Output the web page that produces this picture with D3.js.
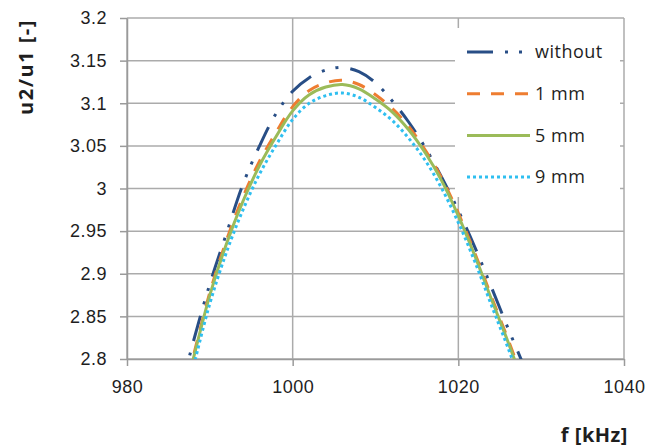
<!DOCTYPE html>
<html>
<head>
<meta charset="utf-8">
<script src="https://cdn.jsdelivr.net/npm/d3@7"></script>
<style>
    body { margin: 0; background: #fff; }
    svg { display: block; font-family: 'Open Sans', sans-serif; }
</style>
</head>
<body>
<svg class="main" width="651" height="448"></svg>
<script>
// frequency points (kHz)
var freq = [986, 988, 990, 992, 994, 996, 998, 1000, 1002, 1004, 1006,
            1008, 1010, 1012, 1014, 1016, 1018, 1020, 1022, 1024, 1026, 1028];

// u2/u1
var without = [2.745, 2.82, 2.888, 2.947, 3.005, 3.05, 3.088, 3.114, 3.130, 3.139, 3.142,
               3.137, 3.124, 3.103, 3.078, 3.048, 3.013, 2.974, 2.931, 2.884, 2.836, 2.79];
var mm1 = [2.725, 2.803, 2.878, 2.939, 2.99, 3.032, 3.066, 3.096, 3.115, 3.124, 3.127,
           3.122, 3.110, 3.094, 3.073, 3.045, 3.012, 2.971, 2.924, 2.873, 2.823, 2.77];
var mm5 = [2.72, 2.80, 2.875, 2.935, 2.985, 3.027, 3.061, 3.091, 3.110, 3.119, 3.122,
           3.117, 3.105, 3.090, 3.069, 3.042, 3.009, 2.968, 2.921, 2.870, 2.820, 2.767];
var mm9 = [2.71, 2.79, 2.865, 2.925, 2.975, 3.017, 3.051, 3.081, 3.100, 3.109, 3.112,
           3.107, 3.095, 3.080, 3.059, 3.033, 3.000, 2.960, 2.914, 2.863, 2.813, 2.76];

var seriesNames = ['without', '1 mm', '5 mm', '9 mm'];
var xTicks = [980, 1000, 1020, 1040];
var yTicks = [2.8, 2.85, 2.9, 2.95, 3, 3.05, 3.1, 3.15, 3.2];

var plotLeft = 127,
    plotRight = 624,
    plotTop = 18,
    plotBottom = 359,
    gridColor = '#ababab',
    textColor = '#1e1e1e',
    // series styles
    colors = ['#284e86', '#ee7d31', '#9bbb59', '#2fbff0'],
    dashes = ['26 12 3 11 3 12', '13 11', null, '3 3'];

var svg = d3.select('svg');

var x = d3.scaleLinear()
    .domain([980, 1040])
    .range([plotLeft, plotRight]);

var y = d3.scaleLinear()
    .domain([2.8, 3.2])
    .range([plotBottom, plotTop]);

// gridlines
svg.append('g')
    .selectAll('line')
    .data(yTicks)
    .enter().append('line')
    .attr('x1', plotLeft)
    .attr('x2', plotRight)
    .attr('y1', d => y(d))
    .attr('y2', d => y(d))
    .attr('stroke', gridColor)
    .attr('stroke-width', 1.5);

svg.append('g')
    .selectAll('line')
    .data(xTicks)
    .enter().append('line')
    .attr('x1', d => x(d))
    .attr('x2', d => x(d))
    .attr('y1', plotTop)
    .attr('y2', plotBottom)
    .attr('stroke', gridColor)
    .attr('stroke-width', 1.5);

// axes
var yAxis = d3.axisLeft(y)
    .tickValues(yTicks)
    .tickFormat(d3.format('~g'))
    .tickSizeInner(7)
    .tickSizeOuter(0)
    .tickPadding(13);

var xAxis = d3.axisBottom(x)
    .tickValues(xTicks)
    .tickFormat(d3.format('d'))
    .tickSizeInner(7)
    .tickSizeOuter(0)
    .tickPadding(14);

var gY = svg.append('g')
    .attr('transform', `translate(${plotLeft},0)`)
    .call(yAxis);

var gX = svg.append('g')
    .attr('transform', `translate(0,${plotBottom})`)
    .call(xAxis);

[gX, gY].forEach(function(g) {
    g.selectAll('path, line')
        .attr('stroke', '#9a9a9a')
        .attr('stroke-width', 1.5);
    g.selectAll('text')
        .attr('fill', textColor)
        .style('font-size', '18px')
        .style('letter-spacing', '0.5px');
});

// lines, clipped to the plot area
svg.append('clipPath')
    .attr('id', 'plot')
    .append('rect')
    .attr('x', plotLeft)
    .attr('y', plotTop)
    .attr('width', plotRight - plotLeft)
    .attr('height', plotBottom - plotTop);

var line = d3.line()
    .x(d => x(d[0]))
    .y(d => y(d[1]))
    .curve(d3.curveCatmullRom);

var series = [without, mm1, mm5, mm9];

svg.append('g')
    .attr('clip-path', 'url(#plot)')
    .selectAll('path')
    .data(series)
    .enter().append('path')
    .attr('d', s => line(freq.map((f, i) => [f, s[i]])))
    .attr('fill', 'none')
    .attr('stroke', (d, i) => colors[i])
    .attr('stroke-width', 3)
    .attr('stroke-dasharray', (d, i) => dashes[i]);

// legend
var legend = svg.append('g');

legend.append('rect')
    .attr('x', 455)
    .attr('y', 28)
    .attr('width', 165)
    .attr('height', 169)
    .attr('fill', '#fff');

var item = legend.selectAll('g')
    .data(seriesNames)
    .enter().append('g')
    .attr('transform', (d, i) => `translate(0,${52 + i * 41.7})`);

item.append('line')
    .attr('x1', 467)
    .attr('x2', 530)
    .attr('stroke', (d, i) => colors[i])
    .attr('stroke-width', 3)
    .attr('stroke-dasharray', (d, i) => dashes[i]);

item.append('text')
    .attr('x', 535)
    .attr('dy', '0.35em')
    .attr('fill', textColor)
    .style('font-size', '18px')
    .style('letter-spacing', '0.5px')
    .text(d => d);

// axis titles
svg.append('text')
    .attr('transform', 'translate(33,67) rotate(-90)')
    .attr('text-anchor', 'middle')
    .attr('fill', textColor)
    .style('font-size', '20px')
    .style('font-weight', 'bold')
    .style('letter-spacing', '1.5px')
    .text('u2/u1 [-]');

svg.append('text')
    .attr('x', 628)
    .attr('y', 442)
    .attr('text-anchor', 'end')
    .attr('fill', textColor)
    .style('font-size', '20px')
    .style('font-weight', 'bold')
    .style('letter-spacing', '0.5px')
    .text('f [kHz]');
</script>
</body>
</html>
